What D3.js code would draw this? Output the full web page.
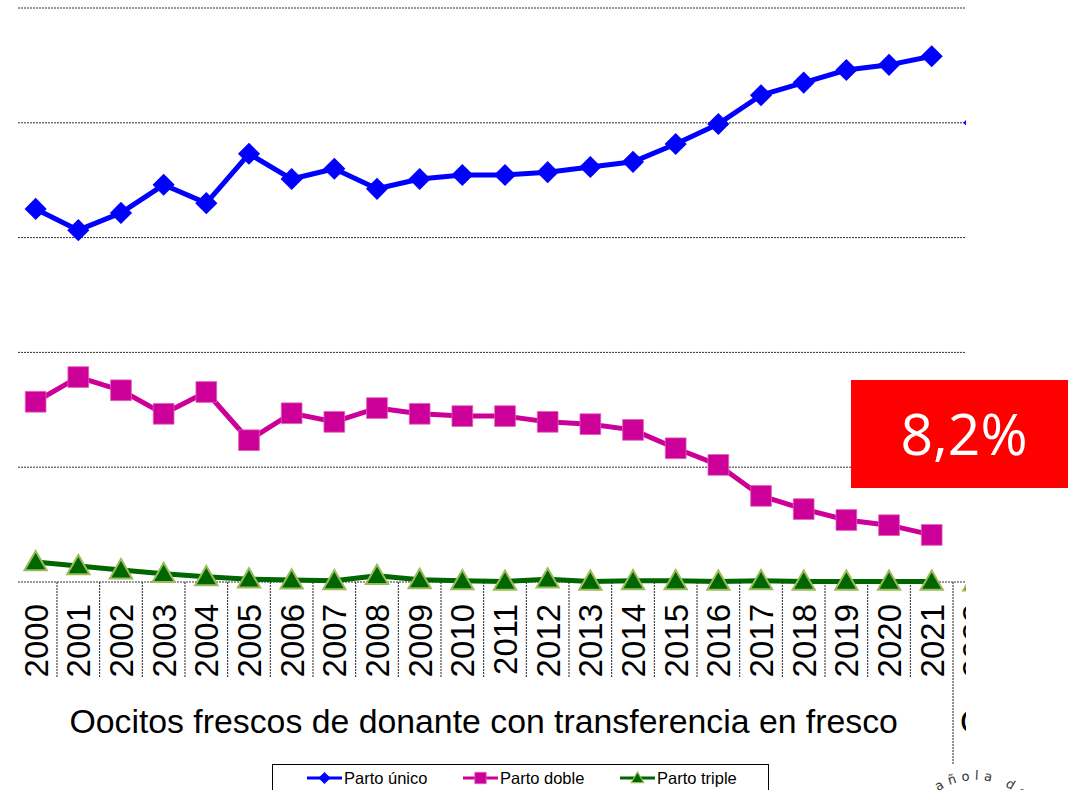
<!DOCTYPE html>
<html>
<head>
<meta charset="utf-8">
<script src="https://cdn.jsdelivr.net/npm/d3@7"></script>
<style>
  body { margin: 0; background: #fff; }
  svg { display: block; }
</style>
</head>
<body>
<div id="chart"></div>
<script>
// years of the first group, plus the first year of the next group (cut off)
var years = ['2000','2001','2002','2003','2004','2005','2006','2007','2008','2009','2010',
             '2011','2012','2013','2014','2015','2016','2017','2018','2019','2020','2021']
var nextYears = ['2022']

var groupLabel = 'Oocitos frescos de donante con transferencia en fresco'
var nextGroupLabel = 'Oocitos vitrificados de donante'

// percentage of births
var unico  = [65.0, 61.3, 64.3, 69.2, 66.0, 74.6, 70.2, 72.0, 68.5, 70.2, 70.9,
              70.9, 71.4, 72.3, 73.2, 76.3, 79.8, 84.8, 87.0, 89.2, 90.1, 91.6]
var doble  = [31.4, 35.7, 33.4, 29.3, 33.1, 24.7, 29.4, 27.9, 30.3, 29.3, 28.9,
              28.9, 27.9, 27.5, 26.5, 23.3, 20.4, 15.0, 12.7, 10.8, 9.9, 8.2]
var triple = [3.5, 2.8, 2.1, 1.45, 0.9, 0.5, 0.35, 0.2, 1.1, 0.4, 0.2,
              0.1, 0.5, 0.1, 0.2, 0.2, 0.1, 0.2, 0.1, 0.1, 0.1, 0.1]
var nextUnico = [80.0]
var nextDoble = [20.0]
var nextTriple = [0.0]

var yTicks = [0, 20, 40, 60, 80, 100]
var highlight = 8.2

var W = 1068, H = 790

var svg = d3.select('#chart').append('svg')
    .attr('width', W)
    .attr('height', H)
    .style('font-family', '"Liberation Sans", Arial, sans-serif')

var allYears = years.concat(nextYears)

var x = d3.scaleBand()
    .domain(allYears)
    .range([14.3, 14.3 + 42.67 * allYears.length])
    .padding(0)

var y = d3.scaleLinear()
    .domain([0, 100])
    .range([582, 8])

svg.append('clipPath').attr('id', 'clip')
  .append('rect').attr('x', 0).attr('y', 0).attr('width', 966).attr('height', H)

var g = svg.append('g').attr('clip-path', 'url(#clip)')

// gridlines (dotted)
g.selectAll('.grid')
    .data(yTicks)
    .enter()
    .append('line')
    .attr('x1', 18)
    .attr('x2', 966)
    .attr('y1', d => y(d))
    .attr('y2', d => y(d))
    .attr('stroke', '#333')
    .attr('stroke-width', 1)
    .attr('stroke-dasharray', '2,1')

// category separators
var bounds = d3.range(1, allYears.length).map(i => x(allYears[i]))
g.selectAll('.sep')
    .data(bounds)
    .enter()
    .append('line')
    .attr('x1', d => d)
    .attr('x2', d => d)
    .attr('y1', y(0))
    .attr('y2', (d, i) => i == years.length - 1 ? 765 : 678)
    .attr('stroke', '#222')
    .attr('stroke-width', 1)
    .attr('stroke-dasharray', '2,1')

// year labels
g.selectAll('.yr')
    .data(allYears)
    .enter()
    .append('text')
    .attr('transform', d => 'translate(' + (x(d) + x.bandwidth() / 2) + ',604) rotate(-90)')
    .attr('text-anchor', 'end')
    .attr('dy', '0.36em')
    .style('font-size', '33px')
    .attr('fill', '#000')
    .text(d => d)

// group labels
g.append('text')
    .attr('x', (x(years[0]) + x(years[years.length - 1]) + x.bandwidth()) / 2)
    .attr('y', 733)
    .attr('text-anchor', 'middle')
    .style('font-size', '33.8px')
    .text(groupLabel)

g.append('text')
    .attr('x', x(nextYears[0]) + 7)
    .attr('y', 733)
    .style('font-size', '33.8px')
    .text(nextGroupLabel)

var series = [
  {name: 'Parto único', values: unico, next: nextUnico, color: '#0000FF', shape: 'diamond'},
  {name: 'Parto doble', values: doble, next: nextDoble, color: '#CC0099', shape: 'square'},
  {name: 'Parto triple', values: triple, next: nextTriple, color: '#006600', shape: 'triangle'}
]

function symbolPath(shape, scale) {
  if (shape == 'diamond') return d3.symbol(d3.symbolSquare, 245 * scale * scale)()
  if (shape == 'square') return d3.symbol(d3.symbolSquare, 430 * scale * scale)()
  return d3.symbol(d3.symbolTriangle, 215 * scale * scale)()
}

function drawMarkers(sel, s, scale) {
  sel.append('path')
    .attr('d', symbolPath(s.shape, scale))
    .attr('fill', s.color)
    .attr('stroke', s.shape == 'triangle' ? '#9BBB59' : (s.shape == 'square' ? '#E060B8' : 'none'))
    .attr('stroke-width', s.shape == 'triangle' ? 2 * Math.max(scale, 0.6) : 0.8)
}

var line = d3.line()
    .x(d => x(d[0]) + x.bandwidth() / 2)
    .y(d => y(d[1]))

series.slice().reverse().forEach(function(s) {
  var pts = years.map((yr, i) => [yr, s.values[i]])
  var nextPts = nextYears.map((yr, i) => [yr, s.next[i]])

  g.append('path')
    .datum(pts)
    .attr('d', line)
    .attr('fill', 'none')
    .attr('stroke', s.color)
    .attr('stroke-width', 5)
    .attr('stroke-linejoin', 'round')

  g.selectAll('.m' + s.shape)
    .data(pts.concat(nextPts))
    .enter()
    .append('g')
    .attr('transform', d => 'translate(' + (x(d[0]) + x.bandwidth() / 2) + ',' + y(d[1]) + ')' +
        (s.shape == 'diamond' ? ' rotate(45)' : '') +
        (s.shape == 'triangle' ? ' translate(0,2)' : ''))
    .each(function() { drawMarkers(d3.select(this), s, 1) })
})

// legend
var legend = svg.append('g')
legend.append('rect')
    .attr('x', 272.5)
    .attr('y', 764.5)
    .attr('width', 496)
    .attr('height', 40)
    .attr('fill', '#fff')
    .attr('stroke', '#000')
    .attr('stroke-width', 1)

var legendX = [307, 463, 620]
series.forEach(function(s, i) {
  var it = legend.append('g').attr('transform', 'translate(' + legendX[i] + ',778)')
  it.append('line')
    .attr('x1', 0).attr('x2', 35)
    .attr('y1', 0).attr('y2', 0)
    .attr('stroke', s.color)
    .attr('stroke-width', 3)
  var m = it.append('g')
    .attr('transform', 'translate(17.5,' + (s.shape == 'triangle' ? 1 : 0) + ')' + (s.shape == 'diamond' ? ' rotate(45)' : ''))
  drawMarkers(m, s, 0.55)
  it.append('text')
    .attr('x', 37)
    .attr('y', 6)
    .style('font-size', '16.5px')
    .text(s.name)
})

// watermark fragment (curved text of a logo)
var arc = d3.path()
arc.arc(976, 848, 68, Math.PI, Math.PI * 2)
svg.append('path').attr('id', 'logoArc').attr('d', arc.toString()).attr('fill', 'none')
svg.append('text')
    .style('font-size', '13px')
    .style('font-family', '"DejaVu Sans", sans-serif')
    .attr('fill', '#333')
    .attr('letter-spacing', '5px')
  .append('textPath')
    .attr('href', '#logoArc')
    .attr('startOffset', 28)
    .text('Española de')

// highlight box
var locale = d3.formatLocale({decimal: ',', thousands: '.', grouping: [3], currency: ['', '€']})
svg.append('rect')
    .attr('x', 851)
    .attr('y', 380)
    .attr('width', W - 851)
    .attr('height', 108)
    .attr('fill', '#FF0000')
svg.append('text')
    .attr('x', 964)
    .attr('y', 455)
    .attr('text-anchor', 'middle')
    .attr('fill', '#fff')
    .style('font-family', '"Open Sans", sans-serif')
    .style('font-size', '57px')
    .text(locale.format('.1f')(highlight) + '%')
</script>
</body>
</html>
